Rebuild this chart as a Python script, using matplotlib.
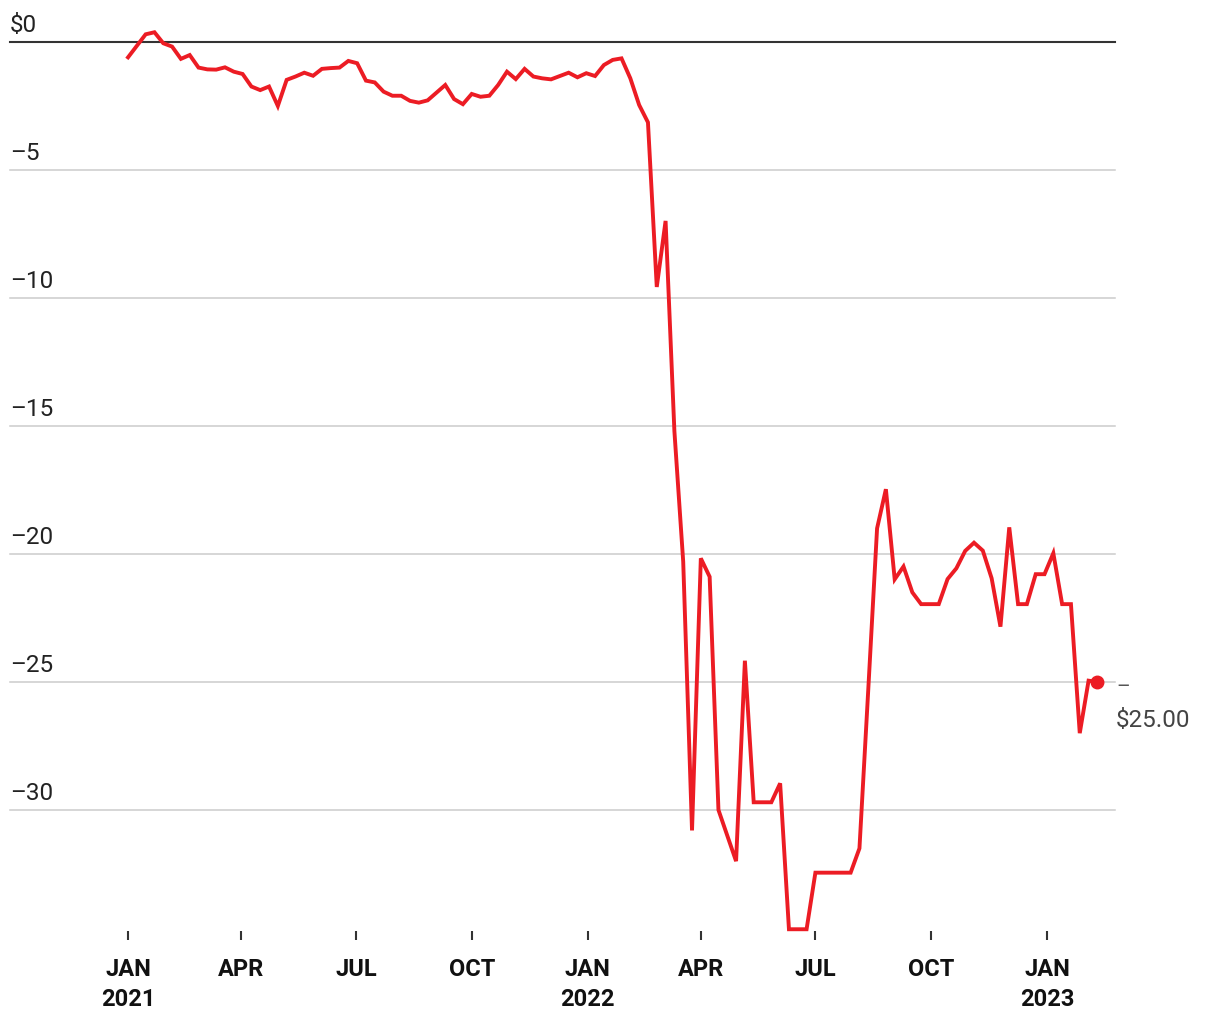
import pandas as pd
import matplotlib
matplotlib.use('Agg')
import matplotlib.pyplot as plt
import matplotlib.dates as mdates

plt.rcParams['font.family'] = ['Roboto', 'DejaVu Sans']

# Weekly values, Jan 2021 - Feb 2023
start_date = '2021-01-01'
values = [
    -0.60, -0.15, 0.30, 0.38, -0.05, -0.18, -0.66, -0.51, -1.00, -1.07,
    -1.08, -0.99, -1.16, -1.25, -1.74, -1.88, -1.74, -2.50, -1.48, -1.35,
    -1.20, -1.32, -1.05, -1.02, -1.00, -0.74, -0.83, -1.51, -1.58, -1.94,
    -2.10, -2.10, -2.30, -2.37, -2.28, -1.98, -1.68, -2.23, -2.43, -2.03,
    -2.14, -2.10, -1.68, -1.16, -1.45, -1.05, -1.35, -1.42, -1.46, -1.33,
    -1.20, -1.38, -1.22, -1.33, -0.90, -0.70, -0.64, -1.42, -2.46, -3.14,
    -9.57, -6.99, -15.2, -20.3, -30.8, -20.17, -20.89, -30.0, -31.0, -32.0,
    -24.17, -29.7, -29.7, -29.7, -28.96, -34.66, -34.66, -34.66, -32.45, -32.45,
    -32.45, -32.45, -32.45, -31.5, -25.3, -19.0, -17.47, -20.99, -20.49, -21.5,
    -21.96, -21.96, -21.96, -20.98, -20.56, -19.88, -19.56, -19.87, -20.95, -22.84,
    -18.96, -21.96, -21.96, -20.79, -20.79, -19.97, -21.96, -21.96, -27.0, -24.95,
    -25.0,
]
dates = pd.date_range(start_date, periods=len(values), freq='7D')

y_ticks = [0, -5, -10, -15, -20, -25, -30]
y_labels = ['$0', '–5', '–10', '–15', '–20', '–25', '–30']
tick_dates = pd.date_range('2021-01-01', '2023-01-01', freq='QS')
tick_labels = ['JAN\n2021', 'APR', 'JUL', 'OCT', 'JAN\n2022', 'APR', 'JUL', 'OCT', 'JAN\n2023']
end_label = '$25.00'

red = '#ec1c24'

fig = plt.figure(figsize=(12.2, 10.2), dpi=100)
ax = fig.add_axes([0, 79 / 1020, 1, 940 / 1020])

ax.plot(dates, values, color=red, lw=2.8, solid_joinstyle='miter', zorder=3)
ax.plot(dates[-1], values[-1], 'o', color=red, ms=9, zorder=4)

# x range: 1.2589 px per day, Jan 2021 tick at px 128
x0 = pd.Timestamp('2021-01-01')
ax.set_xlim(x0 - pd.Timedelta(days=101.7), x0 + pd.Timedelta(days=730 + 137.4))
ax.set_ylim(-35.08, 1.64)

# grid lines
for v in y_ticks:
    if v == 0:
        ax.axhline(v, xmin=10 / 1220, xmax=1115 / 1220, color='#333333', lw=1.5, zorder=2)
    else:
        ax.axhline(v, xmin=10 / 1220, xmax=1115 / 1220, color='#cccccc', lw=1.1, zorder=1)

for v, lab in zip(y_ticks, y_labels):
    ax.text(10 / 1220, v + 0.25, lab, transform=ax.get_yaxis_transform(),
            ha='left', va='bottom', fontsize=17.5, color='#222222')

ax.set_yticks([])
ax.set_xticks(tick_dates)
ax.set_xticklabels(tick_labels, fontsize=17, fontweight='bold', color='#111111',
                   va='top', linespacing=1.4)
ax.tick_params(axis='x', direction='in', length=6.5, width=1.5, color='#333333', pad=12)

for s in ax.spines.values():
    s.set_visible(False)

# end value label
ax.annotate('–', (dates[-1], values[-1]), xytext=(14, -3), textcoords='offset points',
            ha='left', va='center', fontsize=15, color='#555555')
ax.annotate(end_label, (dates[-1], values[-1]), xytext=(13.5, -32), textcoords='offset points',
            ha='left', va='baseline', fontsize=17.5, color='#444444')

fig.savefig('out.png', dpi=100)
